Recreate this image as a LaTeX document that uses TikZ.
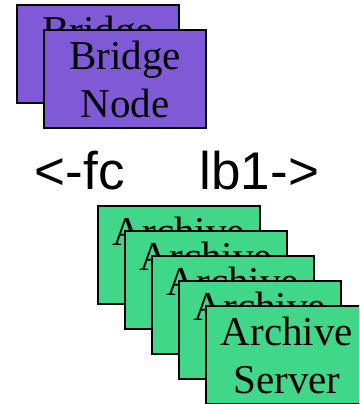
\documentclass[tikz,border=0pt]{standalone}
\usepackage{fontspec}
\setmainfont{Liberation Serif}
\newfontfamily\arrowfont{Liberation Sans}
\definecolor{bridgepurple}{RGB}{128, 90, 214}
\definecolor{archivegreen}{RGB}{64, 216, 136}
\usetikzlibrary{positioning}

\begin{document}
\begin{tikzpicture}[x=1pt, y=1pt]
  \tikzstyle{bridgebox} = [draw, line width=2pt, fill=bridgepurple, rectangle, minimum width=162pt, minimum height=98pt, align=center, inner sep=0pt, font=\fontsize{41}{48}\selectfont]
  \tikzstyle{archivebox} = [draw, line width=2pt, fill=archivegreen, rectangle, minimum width=162pt, minimum height=98pt, align=center, inner sep=0pt, font=\fontsize{41}{48}\selectfont]
  \tikzstyle{dirlabel} = [anchor=base west, inner sep=0pt, font=\arrowfont\fontsize{53}{60}\selectfont]

  \clip (0,0) rectangle (359,404);

  % Bridge nodes (stacked)
  \node [bridgebox] (bridge1) at (98,350) {Bridge\\Node};
  \node [bridgebox] (bridge2) at ([shift={(27,-25)}]bridge1) {Bridge\\Node};

  % Direction labels
  \node [dirlabel] (fc) at (34.5,214) {<-fc};
  \node [dirlabel] (lb) at (199.5,214) {lb1->};

  % Archive servers (stacked)
  \node [archivebox] (arch1) at (179,149) {Archive\\Server};
  \node [archivebox] (arch2) at ([shift={(27,-25)}]arch1) {Archive\\Server};
  \node [archivebox] (arch3) at ([shift={(27,-25)}]arch2) {Archive\\Server};
  \node [archivebox] (arch4) at ([shift={(27,-25)}]arch3) {Archive\\Server};
  \node [archivebox] (arch5) at ([shift={(27,-25)}]arch4) {Archive\\Server};
\end{tikzpicture}
\end{document}
